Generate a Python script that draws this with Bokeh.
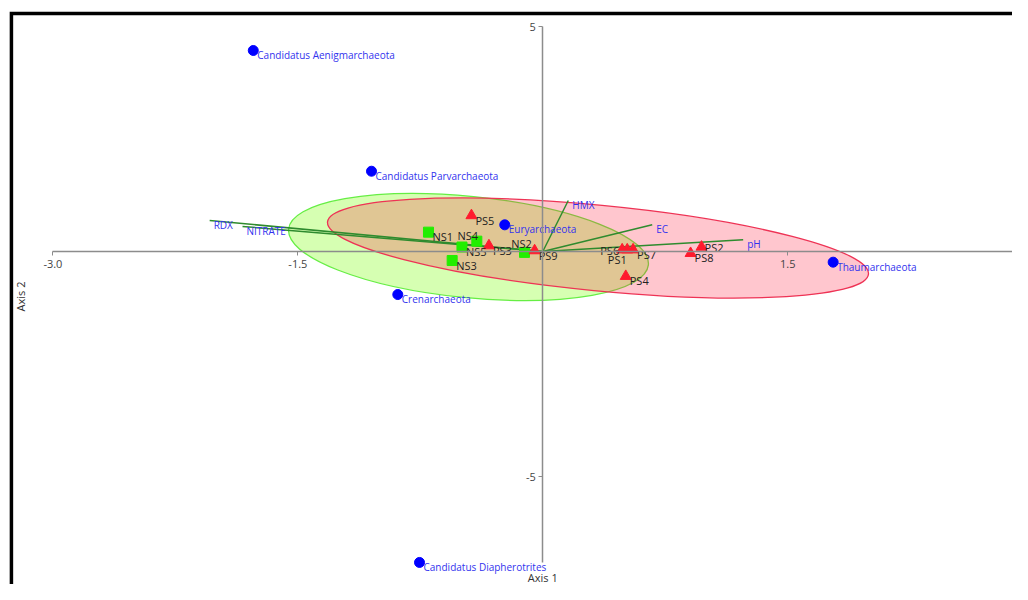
from bokeh.plotting import figure
from bokeh.models import Range1d, FixedTicker, NumeralTickFormatter, Label, ColumnDataSource
from bokeh.embed import file_html
from bokeh.resources import INLINE
from bokeh.core.properties import value
import math

# ---------------- data ----------------
taxa = ["Candidatus Aenigmarchaeota", "Candidatus Parvarchaeota", "Euryarchaeota",
        "Crenarchaeota", "Thaumarchaeota", "Candidatus Diapherotrites"]
taxa_x = [-1.773, -1.049, -0.233, -0.888, 1.778, -0.755]
taxa_y = [4.467, 1.784, 0.593, -0.956, -0.237, -6.91]

ps_names = ["PS1", "PS2", "PS3", "PS4", "PS5", "PS6", "PS7", "PS8", "PS9"]
ps_x = [0.517, 0.972, -0.330, 0.508, -0.437, 0.486, 0.553, 0.905, -0.050]
ps_y = [0.04, 0.10, 0.13, -0.55, 0.80, 0.04, 0.04, -0.04, 0.02]

ns_names = ["NS1", "NS2", "NS3", "NS4", "NS5"]
ns_x = [-0.700, -0.112, -0.555, -0.404, -0.495]
ns_y = [0.43, -0.02, -0.20, 0.23, 0.10]

env_names = ["RDX", "NITRATE", "HMX", "EC", "pH"]
env_x = [-2.040, -1.839, 0.156, 0.670, 1.227]
env_y = [0.689, 0.556, 1.133, 0.593, 0.260]

groups = ["NS", "PS"]
ell_cx = [-0.455, 0.338]
ell_cy = [0.100, 0.078]
ell_w = [2.214, 3.328]
ell_h = [2.253, 1.902]
ell_angle = [-0.0993, -0.0964]

x_ticks = [-3.0, -1.5, 1.5]
y_ticks = [-5, 5]
x_title = "Axis 1"
y_title = "Axis 2"

# ---------------- layout helpers ----------------
FONT = "Open Sans"
XR = (-3.3209, 2.8763)
YR = (-7.40, 5.578)
BORDER_X = -3.254
BORDER_Y = 5.289

p = figure(width=1012, height=584, x_range=Range1d(*XR), y_range=Range1d(*YR),
           output_backend="svg", toolbar_location=None, min_border=0)
p.grid.visible = False
p.outline_line_color = None
p.background_fill_color = "white"

# black frame (left + top)
p.line(x=[XR[1] + 0.1, BORDER_X, BORDER_X], y=[BORDER_Y, BORDER_Y, YR[0] - 0.2],
       line_color="black", line_width=3.5, line_join="miter")

# ellipses
ell_fill = ["#77ff00", "#ff1a3c"]
ell_alpha = [0.30, 0.25]
ell_line = ["#66ee44", "#ee3355"]
for i in range(len(groups)):
    p.ellipse(x=ell_cx[i], y=ell_cy[i], width=ell_w[i], height=ell_h[i],
              angle=ell_angle[i], fill_color=ell_fill[i], fill_alpha=ell_alpha[i],
              line_color=ell_line[i], line_width=1.3)

# environmental vectors
p.segment(x0=[0] * len(env_x), y0=[0] * len(env_y), x1=env_x, y1=env_y,
          line_color="#2e8b2e", line_width=1.5)

# axes at origin
p.xaxis.fixed_location = 0
p.yaxis.fixed_location = 0
p.xaxis.bounds = (x_ticks[0], 3.0)
p.yaxis.bounds = (-6.9, 5)
p.xaxis.ticker = FixedTicker(ticks=x_ticks)
p.yaxis.ticker = FixedTicker(ticks=y_ticks)
p.xaxis.formatter = NumeralTickFormatter(format="0.0")
p.yaxis.formatter = NumeralTickFormatter(format="0")
for ax in (p.xaxis, p.yaxis):
    ax.axis_line_color = "#8c8c8c"
    ax.axis_line_width = 1.5
    ax.major_tick_line_color = "#8c8c8c"
    ax.major_tick_in = 0
    ax.major_tick_out = 4
    ax.minor_tick_line_color = None
    ax.major_label_text_font = FONT
    ax.major_label_text_font_size = "11px"
    ax.major_label_text_color = "#444444"
p.xaxis.major_label_standoff = 4
p.yaxis.major_label_standoff = 3

# markers
p.scatter(taxa_x, taxa_y, marker="circle", size=10, fill_color="#0000ff", line_color="#0000ff")
p.scatter(ns_x, ns_y, marker="square", size=10, fill_color="#22ee00", line_color="#22ee00")
p.scatter(ps_x, ps_y, marker="triangle", size=11, fill_color="#ff1a2e", line_color="#ff1a2e")

# labels
DX, DY = 4, 4.5
special = {
    "PS6": ("right", -3, 1),
    "PS1": ("center", -10, 10),
    "PS2": ("left", 3, 0),
    "NS2": ("center", -3, -9),
    "NS4": ("center", -9, -6),
}

def label_source(names, xs, ys):
    al, dxs, dys = [], [], []
    for n in names:
        a, dx, dy = special.get(n, ("left", DX, DY))
        al.append(a); dxs.append(dx); dys.append(dy)
    return ColumnDataSource(dict(x=xs, y=ys, t=names, al=al, dx=dxs, dy=dys))

p.text(x="x", y="y", text="t", x_offset="dx", y_offset="dy", text_align="al",
       text_baseline="middle", source=label_source(taxa, taxa_x, taxa_y),
       text_font=value(FONT), text_font_size="10px", text_color="#3333ee")
p.text(x="x", y="y", text="t", x_offset="dx", y_offset="dy", text_align="al",
       text_baseline="middle", source=label_source(env_names, env_x, env_y),
       text_font=value(FONT), text_font_size="10px", text_color="#3333ee")
p.text(x="x", y="y", text="t", x_offset="dx", y_offset="dy", text_align="al",
       text_baseline="middle", source=label_source(ns_names, ns_x, ns_y),
       text_font=value(FONT), text_font_size="11px", text_color="#222222")
p.text(x="x", y="y", text="t", x_offset="dx", y_offset="dy", text_align="al",
       text_baseline="middle", source=label_source(ps_names, ps_x, ps_y),
       text_font=value(FONT), text_font_size="11px", text_color="#222222")

# axis titles
p.add_layout(Label(x=0, y=-7.25, text=x_title, text_align="center", text_baseline="middle",
                   text_font=FONT, text_font_size="11px", text_color="#333333"))
p.add_layout(Label(x=-3.198, y=-1.0, text=y_title, angle=math.pi / 2, text_align="center",
                   text_baseline="middle", text_font=FONT, text_font_size="11px",
                   text_color="#333333"))

open("out.html", "w").write(file_html(p, INLINE))
